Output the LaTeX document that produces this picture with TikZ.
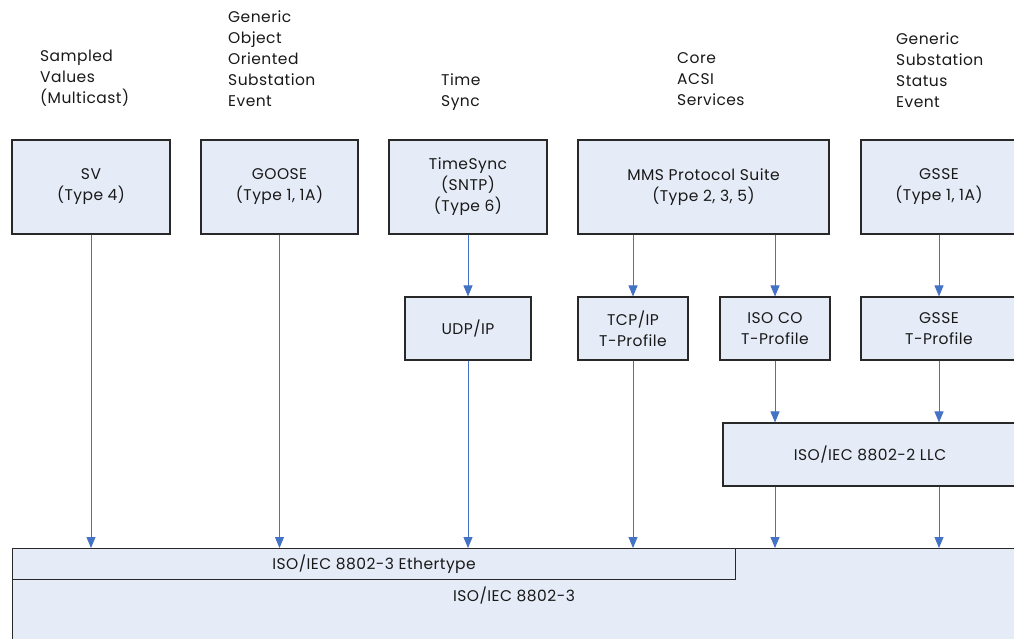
\documentclass[tikz,border=0pt]{standalone}
\usepackage{fontspec}
\setmainfont{Poppins}[LetterSpace=3]
\usetikzlibrary{arrows.meta}

\definecolor{boxfill}{RGB}{230,236,247}
\definecolor{boxline}{RGB}{40,40,40}
\definecolor{arrblue}{RGB}{68,114,196}

\begin{document}
\begin{tikzpicture}[x=1pt, y=-1pt,
	every node/.style={font=\fontsize{15.5}{21}\selectfont, text=black!90},
	box/.style={draw=boxline, fill=boxfill, line width=1.1pt, inner sep=0pt, align=center},
	lbl/.style={anchor=north west, align=left, inner sep=0pt},
	arr/.style={draw=arrblue, line width=0.9pt, -{Triangle[width=9pt, length=11pt]}}]
			\useasboundingbox (0,0) rectangle (1014,638);
			\clip (0,0) rectangle (1014,638);
			
			% labels above the services
			\node[lbl] (svtxt) at (40,50) {Sampled\\Values\\(Multicast)};
			\node[lbl] (goosetxt) at (228,10) {Generic\\Object\\Oriented\\Substation\\Event};
			\node[lbl] (timetxt) at (441,73) {Time\\Sync};
			\node[lbl] (coretxt) at (677,52) {Core\\ACSI\\Services};
			\node[lbl] (gssetxt) at (896,32) {Generic\\Substation\\Status\\Event};
			
			% service boxes
			\node[box, minimum width=158pt, minimum height=94pt] (sv) at (91,187) {SV\\(Type 4)};
			\node[box, minimum width=157pt, minimum height=94pt] (goose) at (279.5,187) {GOOSE\\(Type 1, 1A)};
			\node[box, minimum width=158pt, minimum height=94pt] (time) at (468,187) {TimeSync\\(SNTP)\\(Type 6)};
			\node[box, minimum width=251pt, minimum height=94pt] (mms) at (703.5,187) {MMS Protocol Suite\\(Type 2, 3, 5)};
			\node[box, minimum width=156pt, minimum height=94pt] (gsse) at (939,187) {GSSE\\(Type 1, 1A)};
			
			% transport profiles
			\node[box, minimum width=126pt, minimum height=63pt] (udp) at (468,328.5) {UDP/IP};
			\node[box, minimum width=110pt, minimum height=63pt] (tcp) at (633,328.5) {TCP/IP\\T-Profile};
			\node[box, minimum width=110pt, minimum height=63pt] (isoco) at (775,328.5) {ISO CO\\T-Profile};
			\node[box, minimum width=156pt, minimum height=63pt] (gsset) at (939,328.5) {GSSE\\T-Profile};
			\node[box, minimum width=294pt, minimum height=63pt] (llc) at (870,454.5) {ISO/IEC 8802-2 LLC};
			
			% link layer
			\node[box, anchor=north west, minimum width=1004pt, minimum height=120pt] (base) at (12,548) {};
			\node[inner sep=0pt] (basetxt) at (514,596) {ISO/IEC 8802-3};
			\node[box, anchor=north west, minimum width=723pt, minimum height=31pt] (eth) at (12,548) {ISO/IEC 8802-3 Ethertype};
			
			\path (sv.south) edge[arr] (sv.south |- eth.north);
			\path (goose.south) edge[arr] (goose.south |- eth.north);
			\path (time.south) edge[arr] (udp.north);
			\path (udp.south) edge[arr] (udp.south |- eth.north);
			\path (tcp.north |- mms.south) edge[arr] (tcp.north);
			\path (isoco.north |- mms.south) edge[arr] (isoco.north);
			\path (tcp.south) edge[arr] (tcp.south |- eth.north);
			\path (gsse.south) edge[arr] (gsset.north);
			\path (isoco.south) edge[arr] (isoco.south |- llc.north);
			\path (gsset.south) edge[arr] (gsset.south |- llc.north);
			\path (isoco.south |- llc.south) edge[arr] (isoco.south |- base.north);
			\path (gsset.south |- llc.south) edge[arr] (gsset.south |- base.north);
			\end{tikzpicture}
\end{document}
